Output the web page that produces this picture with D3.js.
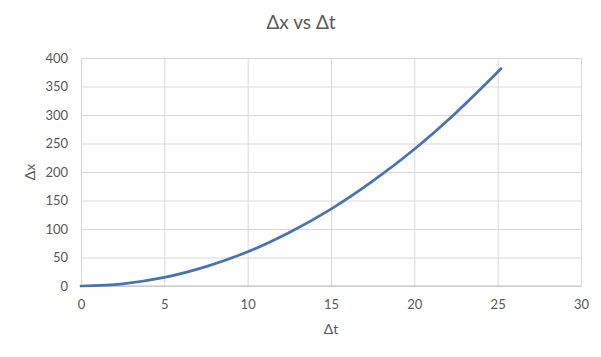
<!DOCTYPE html>
<html>
<head>
<meta charset="utf-8">
<script src="https://cdn.jsdelivr.net/npm/d3@7"></script>
<style>
	body { margin: 0; background: #fff; }
	text { font-family: Lato, "Open Sans", sans-serif; fill: #595959; }
</style>
</head>
<body>
<svg id="vis" width="601" height="357"></svg>
<script>
// values
const dt = [0, 2.5, 5, 7.5, 10, 12.5, 15, 17.5, 20, 22.5, 25.2];
const dx = [0, 3.8, 15, 34, 60, 94, 135, 184, 240, 304, 381];
const xTicks = [0, 5, 10, 15, 20, 25, 30];
const yTicks = [0, 50, 100, 150, 200, 250, 300, 350, 400];

const svg = d3.select("svg#vis");

const margin = { left: 81, right: 20, top: 58, bottom: 71 };
const width = 601 - margin.left - margin.right;
const height = 357 - margin.top - margin.bottom;

const x = d3.scaleLinear().domain([0, 30]).range([0, width]);
const y = d3.scaleLinear().domain([0, 400]).range([height, 0]);

const plot = svg.append("g")
	.attr("transform", translate(margin.left, margin.top));

// gridlines
plot.append("g")
	.attr("class", "grid")
	.call(d3.axisLeft(y).tickValues(yTicks).tickSize(-width).tickFormat(""))
	.call(g => g.select(".domain").remove())
	.selectAll("line").attr("stroke", "#d9d9d9");

plot.append("g")
	.attr("class", "grid")
	.attr("transform", translate(0, height))
	.call(d3.axisBottom(x).tickValues(xTicks).tickSize(-height).tickFormat(""))
	.call(g => g.select(".domain").remove())
	.selectAll("line").attr("stroke", "#d9d9d9");

// baseline
plot.append("line")
	.attr("x1", 0).attr("x2", width)
	.attr("y1", y(0)).attr("y2", y(0))
	.attr("stroke", "#bfbfbf");

// tick labels
const yAxis = plot.append("g")
	.call(d3.axisLeft(y).tickValues(yTicks).tickSize(0).tickPadding(13));
yAxis.select(".domain").remove();
yAxis.selectAll("text").style("font-size", "13px").attr("fill", "#595959");

const xAxis = plot.append("g")
	.attr("transform", translate(0, height))
	.call(d3.axisBottom(x).tickValues(xTicks).tickSize(0).tickPadding(14));
xAxis.select(".domain").remove();
xAxis.selectAll("text").style("font-size", "13px").attr("fill", "#595959");

// the curve
const pts = dt.map((t, i) => [t, dx[i]]);
plot.append("path")
	.datum(pts)
	.attr("fill", "none")
	.attr("stroke", "#4a72b2")
	.attr("stroke-width", 2.75)
	.attr("stroke-linecap", "round")
	.attr("d", d3.line().x(d => x(d[0])).y(d => y(d[1])).curve(d3.curveCatmullRom));

// titles
svg.append("text")
	.attr("x", 301).attr("y", 29)
	.attr("text-anchor", "middle")
	.style("font-size", "19px")
	.text("Δx vs Δt");

svg.append("text")
	.attr("x", margin.left + width / 2).attr("y", 334)
	.attr("text-anchor", "middle")
	.style("font-size", "14px")
	.text("Δt");

svg.append("text")
	.attr("transform", translate(35, margin.top + height / 2) + " rotate(-90)")
	.attr("text-anchor", "middle")
	.style("font-size", "14px")
	.text("Δx");

function translate(a, b) {
	return "translate(" + a + "," + b + ")";
}
</script>
</body>
</html>
